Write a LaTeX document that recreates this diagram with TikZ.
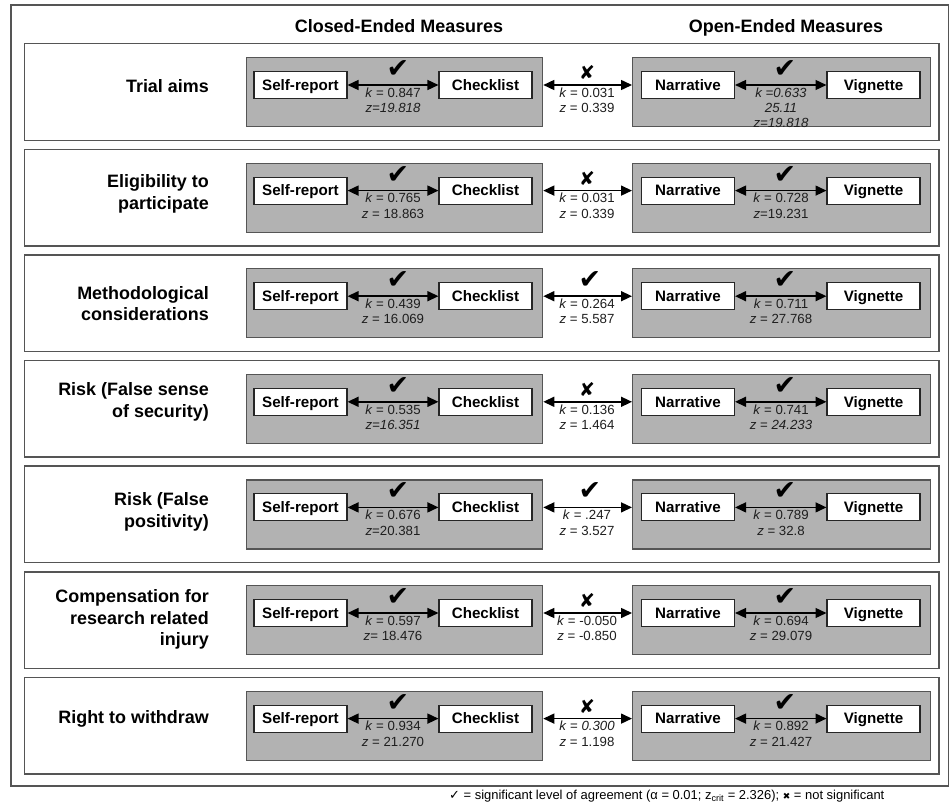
\documentclass[tikz,border=0pt]{standalone}
\usepackage{fontspec}
\setmainfont{Liberation Sans}
\newfontfamily\symfont{DejaVu Sans}
\usetikzlibrary{arrows.meta,calc}
\definecolor{boxgray}{RGB}{178,178,178}
\definecolor{edgegray}{RGB}{85,85,85}
\definecolor{txt}{RGB}{30,30,30}
\tikzset{
  outerframe/.style={draw=edgegray, line width=1.3pt},
  rowbox/.style={draw=edgegray, line width=1.5pt, fill=white, anchor=north west, minimum width=914bp, minimum height=96.5bp, inner sep=0pt},
  graybox/.style={draw=edgegray, line width=1.3pt, fill=boxgray, anchor=north west, minimum height=69bp, inner sep=0pt},
  measbox/.style={draw=black!85, line width=1.1pt, fill=white, minimum width=93bp, minimum height=27bp, inner sep=0pt, text height=11bp, text depth=0.6bp, font=\fontsize{15.2}{18}\selectfont\bfseries},
  dualarr/.style={line width=1.5pt, {Triangle[length=11pt,width=10pt]}-{Triangle[length=11pt,width=10pt]}},
  rowlabel/.style={anchor=east, align=right, inner sep=0pt, font=\fontsize{18}{21.5}\selectfont\bfseries},
  stat/.style={anchor=north, align=center, inner sep=0pt, text=txt, font=\fontsize{13.3}{15.4}\selectfont},
  heading/.style={anchor=base, inner sep=0pt, font=\fontsize{18}{21}\selectfont\bfseries},
  yesmark/.style={inner sep=0pt, font=\symfont\fontsize{27}{27}\selectfont},
  nomark/.style={inner sep=0pt, font=\symfont\fontsize{19}{19}\selectfont},
}
\newcommand\kk{\textit{k}}
\newcommand\zz{\textit{z}}
% #1 index, #2 top y
\newcommand\rowframe[2]{%
  \node[rowbox] (row#1) at (24,#2) {};
  \node[graybox, minimum width=296.5bp] (lg#1) at (245.5,#2+14) {};
  \node[graybox, minimum width=298bp] (rg#1) at (632,#2+14) {};
  \node[measbox] (sr#1) at (300.5,#2+42) {Self-report};
  \node[measbox] (cl#1) at (485.5,#2+42) {Checklist};
  \node[measbox] (nr#1) at (688,#2+42) {Narrative};
  \node[measbox] (vg#1) at (873.5,#2+42) {Vignette};
  \draw[dualarr] (sr#1) -- (cl#1);
  \draw[dualarr] (nr#1) -- (vg#1);
  \draw[dualarr] (lg#1.east |- sr#1.east) -- (rg#1.west |- sr#1.east);
}
\begin{document}
\begin{tikzpicture}[x=1bp,y=-1bp]
\useasboundingbox[fill=white] (0,0) rectangle (951,807);
\draw[outerframe] (11,5) rectangle (948.5,786);
\node[heading] (hc) at (399,32.5) {Closed-Ended Measures};
\node[heading] (ho) at (786,32.5) {Open-Ended Measures};

% Row 1
\rowframe{1}{43}
\node[rowlabel] (lab1) at (209,86) {Trial aims};
\node[yesmark] (cl1m) at (398,69) {✔};
\node[nomark] (md1m) at (587,72.5) {✘};
\node[yesmark] (cr1m) at (785,69) {✔};
\node[stat] (sl1) at (393,87.5) {\kk{} = 0.847\\\textit{z=19.818}};
\node[stat] (sm1) at (587,87.5) {\kk{} = 0.031\\\zz{} = 0.339};
\node[stat] (sr1s) at (781,87.5) {\textit{k =0.633}\\\textit{25.11}\\\textit{z=19.818}};

% Row 2
\rowframe{2}{148.6}
\node[rowlabel] (lab2) at (209,194) {Eligibility to\\participate};
\node[yesmark] (cl2m) at (398,174.6) {✔};
\node[nomark] (md2m) at (587,178.1) {✘};
\node[yesmark] (cr2m) at (785,174.6) {✔};
\node[stat] (sl2) at (393,193.1) {\kk{} = 0.765\\\zz{} = 18.863};
\node[stat] (sm2) at (587,193.1) {\kk{} = 0.031\\\zz{} = 0.339};
\node[stat] (sr2s) at (781,193.1) {\kk{} = 0.728\\\zz{}=19.231};

% Row 3
\rowframe{3}{254.2}
\node[rowlabel] (lab3) at (209,303.5) {Methodological\\considerations};
\node[yesmark] (cl3m) at (398,280.2) {✔};
\node[yesmark] (md3m) at (590,280.2) {✔};
\node[yesmark] (cr3m) at (785,280.2) {✔};
\node[stat] (sl3) at (393,298.7) {\kk{} = 0.439\\\zz{} = 16.069};
\node[stat] (sm3) at (587,298.7) {\kk{} = 0.264\\\zz{} = 5.587};
\node[stat] (sr3s) at (781,298.7) {\kk{} = 0.711\\\zz{} = 27.768};

% Row 4
\rowframe{4}{359.8}
\node[rowlabel] (lab4) at (209,402) {Risk (False sense\\of security)};
\node[yesmark] (cl4m) at (398,385.8) {✔};
\node[nomark] (md4m) at (587,389.3) {✘};
\node[yesmark] (cr4m) at (785,385.8) {✔};
\node[stat] (sl4) at (393,404.3) {\kk{} = 0.535\\\textit{z=16.351}};
\node[stat] (sm4) at (587,404.3) {\kk{} = 0.136\\\zz{} = 1.464};
\node[stat] (sr4s) at (781,404.3) {\kk{} = 0.741\\\zz{} = \textit{24.233}};

% Row 5
\rowframe{5}{465.4}
\node[rowlabel] (lab5) at (209,512) {Risk (False\\positivity)};
\node[yesmark] (cl5m) at (398,491.4) {✔};
\node[yesmark] (md5m) at (590,491.4) {✔};
\node[yesmark] (cr5m) at (785,491.4) {✔};
\node[stat] (sl5) at (393,509.9) {\kk{} = 0.676\\\zz{}=20.381};
\node[stat] (sm5) at (587,509.9) {\kk{} = .247\\\zz{} = 3.527};
\node[stat] (sr5s) at (781,509.9) {\kk{} = 0.789\\\zz{} = 32.8};

% Row 6
\rowframe{6}{571}
\node[rowlabel] (lab6) at (209,619.5) {Compensation for\\research related\\injury};
\node[yesmark] (cl6m) at (398,597) {✔};
\node[nomark] (md6m) at (587,600.5) {✘};
\node[yesmark] (cr6m) at (785,597) {✔};
\node[stat] (sl6) at (393,615.5) {\kk{} = 0.597\\\zz{}= 18.476};
\node[stat] (sm6) at (587,615.5) {\kk{} = -0.050\\\zz{} = -0.850};
\node[stat] (sr6s) at (781,615.5) {\kk{} = 0.694\\\zz{} = 29.079};

% Row 7
\rowframe{7}{676.6}
\node[rowlabel] (lab7) at (209,719) {Right to withdraw};
\node[yesmark] (cl7m) at (398,702.6) {✔};
\node[nomark] (md7m) at (587,706.1) {✘};
\node[yesmark] (cr7m) at (785,702.6) {✔};
\node[stat] (sl7) at (393,721.1) {\kk{} = 0.934\\\zz{} = 21.270};
\node[stat] (sm7) at (587,721.1) {\kk{} = \textit{0.300}\\\zz{} = 1.198};
\node[stat] (sr7s) at (781,721.1) {\kk{} = 0.892\\\zz{} = 21.427};

% Legend
\node[anchor=west, inner sep=0pt, font=\fontsize{13}{16}\selectfont] (legend) at (449,796) {{\symfont\fontsize{13}{13}\selectfont ✓} = significant level of agreement (α = 0.01; z\textsubscript{crit} = 2.326); {\symfont\fontsize{9}{9}\selectfont ✖} = not significant};
\end{tikzpicture}
\end{document}
